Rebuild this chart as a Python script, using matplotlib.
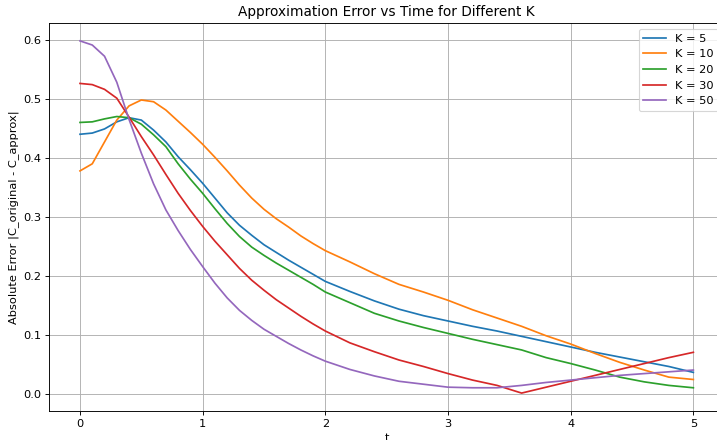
import matplotlib
matplotlib.use('Agg')
import matplotlib.pyplot as plt

# time samples (dense where curves bend most)
t = [0.0, 0.1, 0.2, 0.3, 0.4, 0.5, 0.6, 0.7, 0.8, 0.9, 1.0,
     1.1, 1.2, 1.3, 1.4, 1.5, 1.6, 1.7, 1.8, 1.9, 2.0,
     2.2, 2.4, 2.6, 2.8, 3.0, 3.2, 3.4, 3.6, 3.8, 4.0,
     4.2, 4.4, 4.6, 4.8, 5.0]

k_values = [5, 10, 20, 30, 50]

err_k5 = [0.440, 0.442, 0.449, 0.461, 0.468, 0.464, 0.447, 0.427, 0.402, 0.380, 0.357,
          0.332, 0.307, 0.286, 0.269, 0.253, 0.240, 0.227, 0.215, 0.203, 0.191,
          0.174, 0.158, 0.144, 0.133, 0.124, 0.115, 0.107, 0.098, 0.089, 0.080,
          0.071, 0.063, 0.055, 0.047, 0.037]
err_k10 = [0.378, 0.390, 0.427, 0.464, 0.488, 0.498, 0.495, 0.481, 0.462, 0.443, 0.423,
           0.401, 0.378, 0.354, 0.332, 0.313, 0.297, 0.283, 0.268, 0.255, 0.243,
           0.224, 0.204, 0.186, 0.173, 0.159, 0.143, 0.129, 0.115, 0.099, 0.085,
           0.069, 0.054, 0.041, 0.029, 0.025]
err_k20 = [0.460, 0.461, 0.466, 0.470, 0.468, 0.457, 0.439, 0.419, 0.390, 0.364, 0.340,
           0.314, 0.289, 0.267, 0.249, 0.235, 0.222, 0.210, 0.198, 0.186, 0.173,
           0.155, 0.137, 0.124, 0.113, 0.103, 0.093, 0.084, 0.075, 0.062, 0.052,
           0.041, 0.029, 0.021, 0.015, 0.011]
err_k30 = [0.526, 0.524, 0.516, 0.501, 0.469, 0.436, 0.405, 0.372, 0.340, 0.311, 0.284,
           0.259, 0.236, 0.213, 0.193, 0.176, 0.160, 0.146, 0.132, 0.119, 0.107,
           0.087, 0.072, 0.058, 0.047, 0.035, 0.024, 0.015, 0.002, 0.012, 0.022,
           0.032, 0.042, 0.052, 0.062, 0.071]
err_k50 = [0.598, 0.591, 0.572, 0.528, 0.465, 0.408, 0.356, 0.312, 0.277, 0.245, 0.216,
           0.188, 0.163, 0.142, 0.125, 0.110, 0.098, 0.086, 0.075, 0.065, 0.056,
           0.042, 0.031, 0.022, 0.017, 0.012, 0.011, 0.011, 0.015, 0.020, 0.024,
           0.028, 0.032, 0.035, 0.038, 0.041]


def main():
    errors = [err_k5, err_k10, err_k20, err_k30, err_k50]
    # the reference looks like a screen grab at ~82 dpi
    dpi = 82
    fig = plt.figure(figsize=(717 / dpi, 440 / dpi), dpi=dpi)
    # the axes runs a little past the right edge, like the cropped original
    ax = fig.add_axes([0.0688, 0.0666, 0.941, 0.8805])
    for k, err in zip(k_values, errors):
        ax.plot(t, err, label=f'K = {k}')
    ax.set_title('Approximation Error vs Time for Different K')
    ax.set_xlabel('t')
    ax.set_ylabel('Absolute Error |C_original - C_approx|')
    ax.legend(loc='upper right')
    ax.grid(True)
    fig.savefig('out.png', dpi=dpi)


if __name__ == "__main__":
    main()
